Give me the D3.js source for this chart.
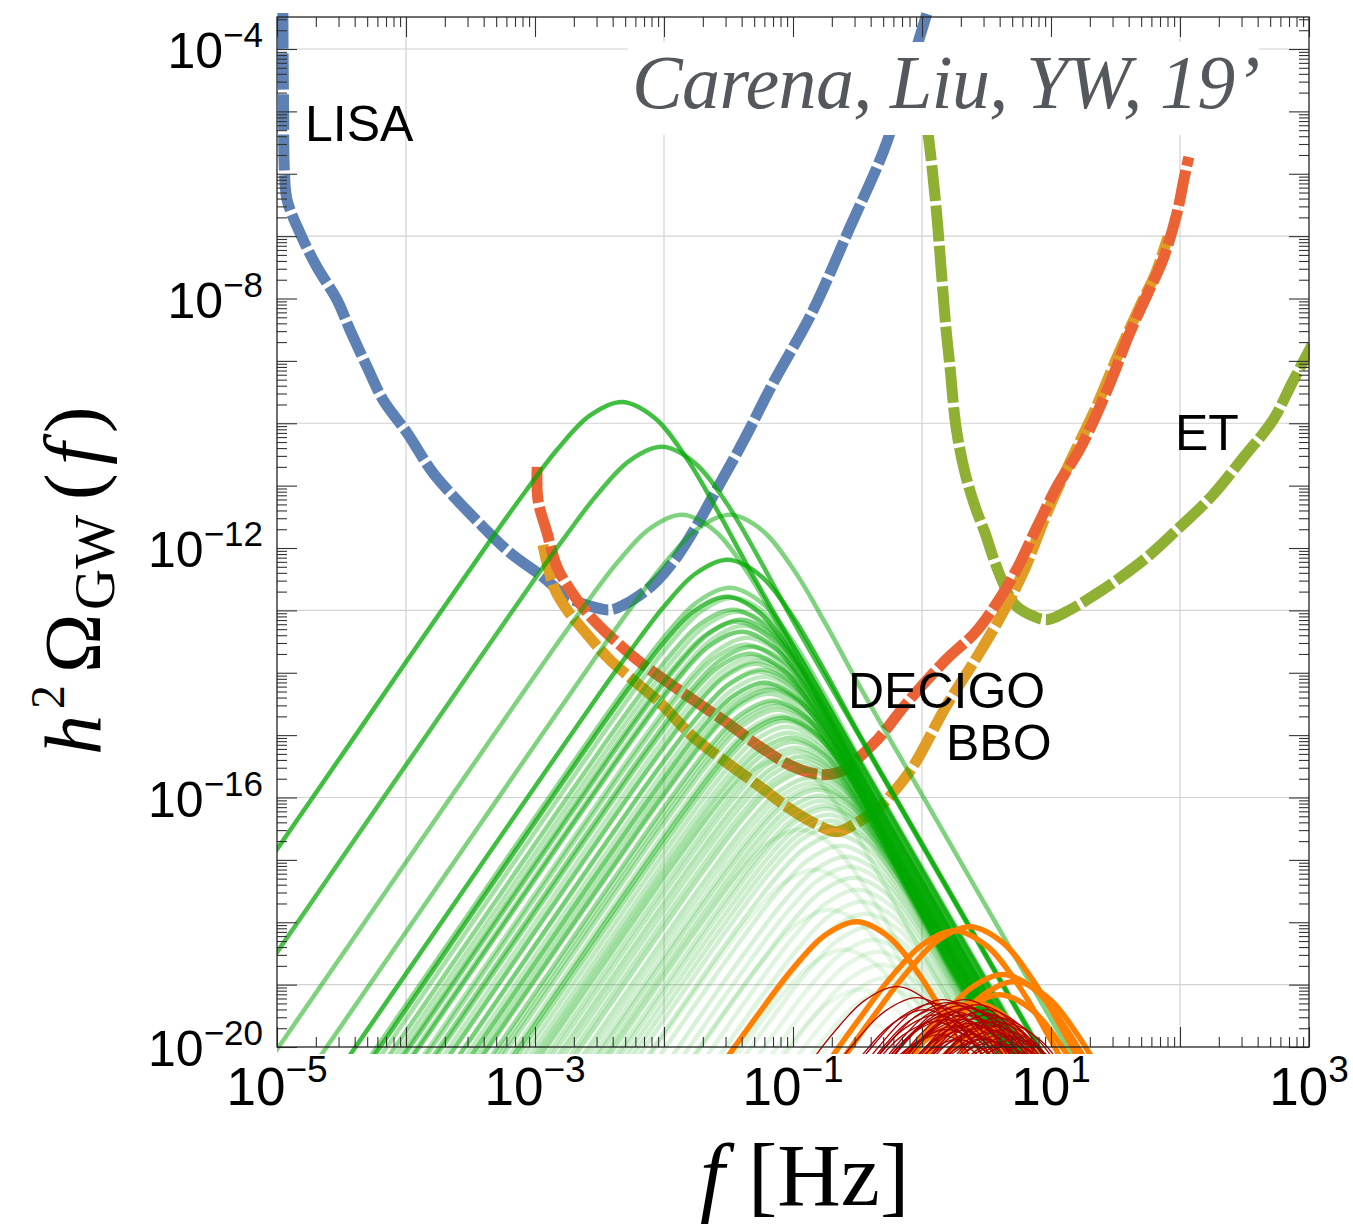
<!DOCTYPE html>
<html>
<head>
<meta charset="utf-8">
<script src="https://cdn.jsdelivr.net/npm/d3@7"></script>
<style>
  body { margin: 0; background: #fff; }
</style>
</head>
<body>
<svg id="chart" width="1353" height="1227"></svg>
<script>
const width = 1353;
const height = 1227;
const plotLeft = 277, plotRight = 1309, plotTop = 17, plotBottom = 1047;

// detector sensitivity curves: f [Hz], h^2 Omega
const lisaF = [1.11e-5, 1.123e-5, 1.143e-5, 1.197e-5, 1.507e-5, 2.04e-5, 2.92e-5, 3.68e-5, 4.99e-5, 6.64e-5, 1.02e-4, 1.62e-4, 2.48e-4, 3.95e-4, 6.4e-4, 1.15e-3, 1.77e-3, 2.82e-3, 3.81e-3, 4.90e-3, 6.87e-3, 8.98e-3, 1.26e-2, 1.77e-2, 2.48e-2, 4.17e-2, 7.0e-2, 0.140, 0.277, 0.507, 0.738, 1.094];
const lisaOmega = [3.78e-4, 1.52e-5, 1.03e-6, 3.8e-7, 1.12e-7, 3.2e-8, 9.5e-9, 3.14e-9, 8.0e-10, 2.37e-10, 7.0e-11, 1.60e-11, 5.9e-12, 2.19e-12, 8.4e-13, 3.45e-13, 1.65e-13, 1.14e-13, 1.02e-13, 1.23e-13, 1.91e-13, 3.09e-13, 7.2e-13, 2.19e-12, 7.7e-12, 5.4e-11, 4.4e-10, 5.9e-9, 1.40e-7, 2.40e-6, 2.65e-5, 3.78e-4];

const decigoF = [1.04e-3, 1.055e-3, 1.24e-3, 1.48e-3, 1.87e-3, 2.53e-3, 3.19e-3, 6.18e-3, 9.31e-3, 1.68e-2, 3.08e-2, 5.55e-2, 0.1, 0.171, 0.253, 0.330, 0.472, 0.766, 1.53, 2.58, 3.95, 5.55, 7.8, 11.1, 17.1, 28.7, 40.2, 56.5, 73.8, 94.8, 107, 117];
const decigoOmega = [2.0e-11, 5.9e-12, 1.75e-12, 5.0e-13, 2.14e-13, 9.2e-14, 5.5e-14, 1.61e-14, 8.6e-15, 3.69e-15, 1.58e-15, 6.5e-16, 3.12e-16, 2.32e-16, 2.79e-16, 4.5e-16, 9.4e-16, 3.30e-15, 1.61e-14, 4.4e-14, 1.48e-13, 5.0e-13, 2.19e-12, 9.6e-12, 4.2e-11, 4.4e-10, 2.61e-9, 1.23e-8, 4.2e-8, 2.36e-7, 7.96e-7, 1.86e-6];

const bboF = [1.153e-3, 1.26e-3, 1.43e-3, 1.77e-3, 2.36e-3, 3.81e-3, 5.75e-3, 9.31e-3, 1.68e-2, 3.08e-2, 5.55e-2, 8.97e-2, 0.143, 0.219, 0.313, 0.448, 0.596, 0.851, 1.53, 2.58, 3.95, 6.07, 9.31, 14.3, 21.9, 33.6, 51.6, 64.0, 80.7];
const bboOmega = [1.12e-12, 5.0e-13, 2.14e-13, 1.02e-13, 4.9e-14, 1.61e-14, 7.7e-15, 3.30e-15, 9.4e-16, 3.61e-16, 1.49e-16, 7.1e-17, 3.95e-17, 2.83e-17, 3.95e-17, 6.4e-17, 1.19e-16, 3.12e-16, 2.85e-15, 1.61e-14, 7.1e-14, 4.0e-13, 3.66e-12, 2.59e-11, 1.64e-10, 1.34e-9, 9.5e-9, 2.39e-8, 9.7e-8];

const etF = [1.094, 1.195, 1.306, 1.403, 1.53, 1.648, 1.835, 2.155, 2.58, 3.08, 3.61, 4.32, 5.26, 6.87, 9.31, 14.0, 21.9, 34.3, 58.5, 94.8, 174, 313, 526, 738, 1055];
const etOmega = [6.05e-6, 1.29e-6, 2.03e-7, 3.2e-8, 3.5e-9, 8.0e-10, 8.75e-11, 1.60e-11, 4.57e-12, 1.75e-12, 6.5e-13, 2.57e-13, 1.23e-13, 8.5e-14, 7.1e-14, 1.02e-13, 1.78e-13, 3.33e-13, 7.8e-13, 1.96e-12, 6.6e-12, 2.9e-11, 1.13e-10, 4.4e-10, 1.80e-9];

// spectral shape: log10(f/fpeak) -> log10(Omega/Omega_peak)
const shapeU = [-6, -5, -4, -3, -2, -1.5, -1, -0.75, -0.5, -0.25, 0, 0.25, 0.5, 0.75, 1, 1.5, 2, 3, 4, 5];
const shapeV = [-17.15, -14.15, -11.15, -8.15, -5.15, -3.65, -2.16, -1.44, -0.76, -0.22, 0, -0.25, -0.90, -1.78, -2.73, -4.53, -6.33, -9.93, -13.53, -17.13];

// green spectra: peak frequency, peak amplitude, opacity
const greenPeakF = [4.72e-3, 9.64e-3, 1.38e-2, 3.25e-2, 3.13e-2, 3.25e-2, 3.08e-2, 3.43e-2, 3.68e-2, 4.03e-2, 4.33e-2, 4.65e-2, 5.17e-2, 5.55e-2, 6.07e-2, 6.52e-2, 7.00e-2, 7.65e-2, 8.36e-2, 8.98e-2, 9.64e-2, 0.1054, 0.1153, 0.126, 0.138, 0.151, 0.162, 0.177, 0.190, 0.208, 0.219, 0.236, 0.258, 0.277, 0.297, 0.319, 0.343, 0.368, 0.395, 0.424, 0.456, 0.490, 0.526, 0.565,
  0.03426, 0.03747, 0.03953, 0.04171, 0.04479, 0.04811, 0.05075, 0.05355, 0.05750, 0.05959, 0.0640, 0.06754, 0.07252, 0.07516, 0.08072, 0.08670, 0.09311, 0.1018, 0.1093, 0.1196, 0.1307, 0.1429, 0.1562, 0.1678, 0.1835, 0.1971,
  0.1133, 0.1481, 0.1936, 0.2530, 0.3307, 0.07927, 0.3953];
const greenPeakOmega = [2.20e-10, 4.19e-11, 3.40e-12, 3.40e-12, 6.47e-13, 2.30e-13, 1.65e-13, 1.02e-13, 6.56e-14, 4.54e-14, 2.81e-14, 2.01e-14, 1.39e-14, 1.04e-14, 6.92e-15, 4.61e-15, 3.56e-15, 2.55e-15, 1.90e-15, 1.36e-15, 9.08e-16, 6.28e-16, 4.51e-16, 3.12e-16, 2.08e-16, 1.49e-16, 1.07e-16, 7.40e-17, 5.30e-17, 3.53e-17, 2.54e-17, 1.69e-17, 1.12e-17, 7.78e-18, 5.19e-18, 3.33e-18, 2.14e-18, 1.37e-18, 8.5e-19, 5.26e-19, 3.38e-19, 2.09e-19, 1.29e-19, 8.3e-20,
  1.59e-13, 9.5e-14, 7.06e-14, 5.66e-14, 3.64e-14, 2.61e-14, 1.80e-14, 1.56e-14, 1.12e-14, 8.63e-15, 5.97e-15, 5.34e-15, 3.30e-15, 2.96e-15, 2.05e-15, 1.70e-15, 1.09e-15, 7.83e-16, 5.42e-16, 3.75e-16, 2.69e-16, 1.73e-16, 1.33e-16, 8.88e-17, 6.62e-17, 4.25e-17,
  3.05e-17, 6.97e-18, 1.59e-18, 3.64e-19, 8.32e-20, 4.04e-16, 2.29e-20];
const greenAlpha = [0.75, 0.7, 0.5, 0.5, 0.75, 0.45, 0.7, 0.45, 0.4, 0.55, 0.35, 0.45, 0.35, 0.3, 0.55, 0.3, 0.4, 0.3, 0.45, 0.25, 0.35, 0.25, 0.3, 0.25, 0.25, 0.2, 0.25, 0.2, 0.2, 0.18, 0.2, 0.16, 0.16, 0.14, 0.16, 0.13, 0.13, 0.12, 0.12, 0.11, 0.1, 0.1, 0.1, 0.1,
  0.35, 0.3, 0.5, 0.3, 0.3, 0.45, 0.25, 0.3, 0.35, 0.25, 0.3, 0.4, 0.25, 0.3, 0.25, 0.35, 0.25, 0.3, 0.25, 0.25, 0.3, 0.2, 0.25, 0.2, 0.2, 0.2,
  0.12, 0.1, 0.1, 0.1, 0.08, 0.15, 0.08];

// orange spectra
const orangePeakF = [0.313, 1.80, 2.36, 4.25, 5.26, 4.03, 2.58, 1.97, 3.37];
const orangePeakOmega = [1.02e-18, 7.33e-19, 8.5e-19, 1.45e-19, 1.12e-19, 6.9e-20, 5.15e-20, 2.28e-20, 1.90e-20];

// dark red spectra
const redPeakF = [0.640, 0.915, 1.217, 1.404, 1.591, 1.803, 2.006, 2.193, 2.398, 2.622, 2.817, 3.079, 3.307, 3.615, 3.953, 4.322, 1.508, 1.739, 2.042, 2.485, 2.972, 3.551, 4.810, 1.902, 4.024, 2.314, 1.307, 5.259,
  1.055, 1.261, 1.455, 1.649, 1.867, 2.042, 2.233, 2.576, 2.718, 2.972, 3.248, 3.488, 3.746, 4.172, 4.560, 4.986, 1.562, 1.379, 3.079, 2.154];
const redPeakOmega = [9.29e-20, 6.19e-20, 4.97e-20, 4.28e-20, 5.15e-20, 3.69e-20, 4.60e-20, 3.30e-20, 4.12e-20, 2.85e-20, 3.69e-20, 2.55e-20, 3.30e-20, 2.20e-20, 2.96e-20, 1.90e-20, 2.75e-20, 2.12e-20, 1.83e-20, 1.58e-20, 1.36e-20, 1.22e-20, 1.52e-20, 1.32e-20, 1.09e-20, 2.37e-20, 3.30e-20, 1.32e-20,
  3.97e-20, 2.55e-20, 5.75e-20, 3.30e-20, 5.15e-20, 2.75e-20, 4.28e-20, 2.29e-20, 4.78e-20, 2.05e-20, 3.97e-20, 1.77e-20, 2.55e-20, 1.58e-20, 2.37e-20, 1.09e-20, 1.90e-20, 1.58e-20, 1.32e-20, 5.75e-20];

const yMajor = [1e-20, 1e-8, 1e-12, 1e-16, 1e-4];
const yLabelExp = ["20", "8", "12", "16", "4"];
const xMajor = [1e-5, 1e-3, 1e-1, 1e1, 1e3];
const xLabelExp = ["\u22125", "\u22123", "\u22121", "1", "3"];
const yGrid = [1e-19, 1e-16, 1e-13, 1e-10, 1e-7, 1e-4];
const xGrid = [1e-4, 1e-2, 1, 1e2];

const sans = "'Liberation Sans', Arial, Helvetica, sans-serif";
const serif = "'Liberation Serif', 'Times New Roman', serif";

var xScale = d3.scaleLog().domain([1e-5, 1e3]).range([plotLeft, plotRight]);
var yScale = d3.scaleLog().domain([1e-20, 3.26e-4]).range([plotBottom, plotTop]);

const svg = d3.select("#chart");

svg.append("clipPath").attr("id", "plot-clip")
  .append("rect")
  .attr("x", plotLeft).attr("y", 8)
  .attr("width", plotRight - plotLeft + 1).attr("height", plotBottom + 7 - 8);

// grid
svg.append("g").selectAll("line").data(yGrid).enter().append("line")
  .attr("x1", plotLeft).attr("x2", plotRight)
  .attr("y1", d => yScale(d)).attr("y2", d => yScale(d))
  .attr("stroke", "#d2d2d2").attr("stroke-width", 1.2);
svg.append("g").selectAll("line").data(xGrid).enter().append("line")
  .attr("y1", plotTop).attr("y2", plotBottom)
  .attr("x1", d => xScale(d)).attr("x2", d => xScale(d))
  .attr("stroke", "#d2d2d2").attr("stroke-width", 1.2);

const line = d3.line()
  .x(d => xScale(d[0]))
  .y(d => yScale(d[1]))
  .curve(d3.curveCatmullRom.alpha(0.5));

const plot = svg.append("g").attr("clip-path", "url(#plot-clip)");

function sensitivity(fs, omegas, color) {
  plot.append("path")
    .datum(fs.map((f, i) => [f, omegas[i]]))
    .attr("d", line)
    .attr("fill", "none")
    .attr("stroke", color)
    .attr("stroke-width", 11)
    .attr("stroke-dasharray", "36,4.5");
}
sensitivity(lisaF, lisaOmega, "#5E81B5");
sensitivity(etF, etOmega, "#8FB032");
sensitivity(bboF, bboOmega, "#E19C24");
sensitivity(decigoF, decigoOmega, "#EB6235");

function spectrum(fp, op) {
  return shapeU.map((u, i) => [fp * Math.pow(10, u), op * Math.pow(10, shapeV[i])]);
}

// faint ones first
const greenOrder = d3.range(greenPeakF.length).sort((a, b) => greenAlpha[a] - greenAlpha[b]);
plot.append("g").selectAll("path").data(greenOrder).enter().append("path")
  .attr("d", i => line(spectrum(greenPeakF[i], greenPeakOmega[i])))
  .attr("fill", "none")
  .attr("stroke", "#00A800")
  .attr("stroke-opacity", i => greenAlpha[i])
  .attr("stroke-width", 4.5);

plot.append("g").selectAll("path").data(orangePeakF).enter().append("path")
  .attr("d", (d, i) => line(spectrum(d, orangePeakOmega[i])))
  .attr("fill", "none")
  .attr("stroke", "#FF8000")
  .attr("stroke-width", 5.5);

plot.append("g").selectAll("path").data(redPeakF).enter().append("path")
  .attr("d", (d, i) => line(spectrum(d, redPeakOmega[i])))
  .attr("fill", "none")
  .attr("stroke", "#B00000")
  .attr("stroke-width", 1.3);

// frame and ticks
const minor = [];
for (let e = -20; e <= 3; e++) for (let k = 2; k <= 9; k++) minor.push(k * Math.pow(10, e));
const yDec = d3.range(-20, -3).map(e => Math.pow(10, e));
const xDec = d3.range(-5, 4).map(e => Math.pow(10, e));
const yMinor = minor.filter(v => v > 1e-20 && v < 3.26e-4);
const xMinor = minor.filter(v => v > 1e-5 && v < 1e3);

function ticks(axis, values, size, transform) {
  svg.append("g")
    .attr("transform", transform)
    .call(axis.tickValues(values).tickSize(-size).tickFormat(""))
    .call(g => g.select(".domain").remove())
    .call(g => g.selectAll("line").attr("stroke", "#333").attr("stroke-width", 1.1));
}
ticks(d3.axisLeft(yScale), yDec, 20, `translate(${plotLeft},0)`);
ticks(d3.axisLeft(yScale), yMinor, 10, `translate(${plotLeft},0)`);
ticks(d3.axisRight(yScale), yDec, 20, `translate(${plotRight},0)`);
ticks(d3.axisRight(yScale), yMinor, 10, `translate(${plotRight},0)`);
ticks(d3.axisBottom(xScale), xDec, 20, `translate(0,${plotBottom})`);
ticks(d3.axisBottom(xScale), xMinor, 10, `translate(0,${plotBottom})`);
ticks(d3.axisTop(xScale), xDec, 20, `translate(0,${plotTop})`);
ticks(d3.axisTop(xScale), xMinor, 10, `translate(0,${plotTop})`);

svg.append("rect")
  .attr("x", plotLeft).attr("y", plotTop)
  .attr("width", plotRight - plotLeft).attr("height", plotBottom - plotTop)
  .attr("fill", "none").attr("stroke", "#222").attr("stroke-width", 1.3);

// tick labels
yMajor.forEach((v, i) => {
  const t = svg.append("text")
    .attr("x", 263).attr("y", yScale(v) + 19)
    .attr("text-anchor", "end")
    .style("font-family", sans).style("font-size", "50px");
  t.append("tspan").text("10");
  t.append("tspan").attr("dy", -21).style("font-size", "35px").text("\u2212" + yLabelExp[i]);
});
xMajor.forEach((v, i) => {
  const t = svg.append("text")
    .attr("x", xScale(v)).attr("y", 1105)
    .attr("text-anchor", "middle")
    .style("font-family", sans).style("font-size", "53px");
  t.append("tspan").text("10");
  t.append("tspan").attr("dy", -23).style("font-size", "37px").text(xLabelExp[i]);
});

// title box
svg.append("rect")
  .attr("x", 628).attr("y", 42).attr("width", 631).attr("height", 93)
  .attr("fill", "#fff");
svg.append("text")
  .attr("x", 632).attr("y", 108)
  .attr("textLength", 628)
  .style("font-family", serif).style("font-style", "italic")
  .style("font-size", "76px").attr("fill", "#54585D")
  .text("Carena, Liu, YW, 19\u2019");

// detector labels
const labels = [["LISA", 305, 141], ["DECIGO", 848, 708], ["BBO", 946, 760], ["ET", 1175, 450]];
svg.append("g").selectAll("text").data(labels).enter().append("text")
  .attr("x", d => d[1]).attr("y", d => d[2])
  .style("font-family", sans).style("font-size", "50px")
  .text(d => d[0]);

// axis titles
const xt = svg.append("g").style("font-family", serif).style("font-size", "88px");
xt.append("text").attr("x", 700).attr("y", 1205).style("font-style", "italic").text("f");
xt.append("text").attr("x", 748).attr("y", 1205).text("[Hz]");

const yTitle = svg.append("text")
  .attr("transform", "translate(100,755) rotate(-90)")
  .style("font-family", serif).style("font-size", "80px");
yTitle.append("tspan").attr("x", 0).style("font-style", "italic").text("h");
yTitle.append("tspan").attr("x", 46).attr("dy", -36).style("font-size", "48px").text("2");
yTitle.append("tspan").attr("x", 82).attr("dy", 36).text("\u03A9");
yTitle.append("tspan").attr("x", 145).attr("dy", 14).style("font-size", "57px").text("GW");
yTitle.append("tspan").attr("x", 255).attr("dy", -14).text("(");
yTitle.append("tspan").attr("x", 290).style("font-style", "italic").text("f");
yTitle.append("tspan").attr("x", 322).text(")");
</script>
</body>
</html>
